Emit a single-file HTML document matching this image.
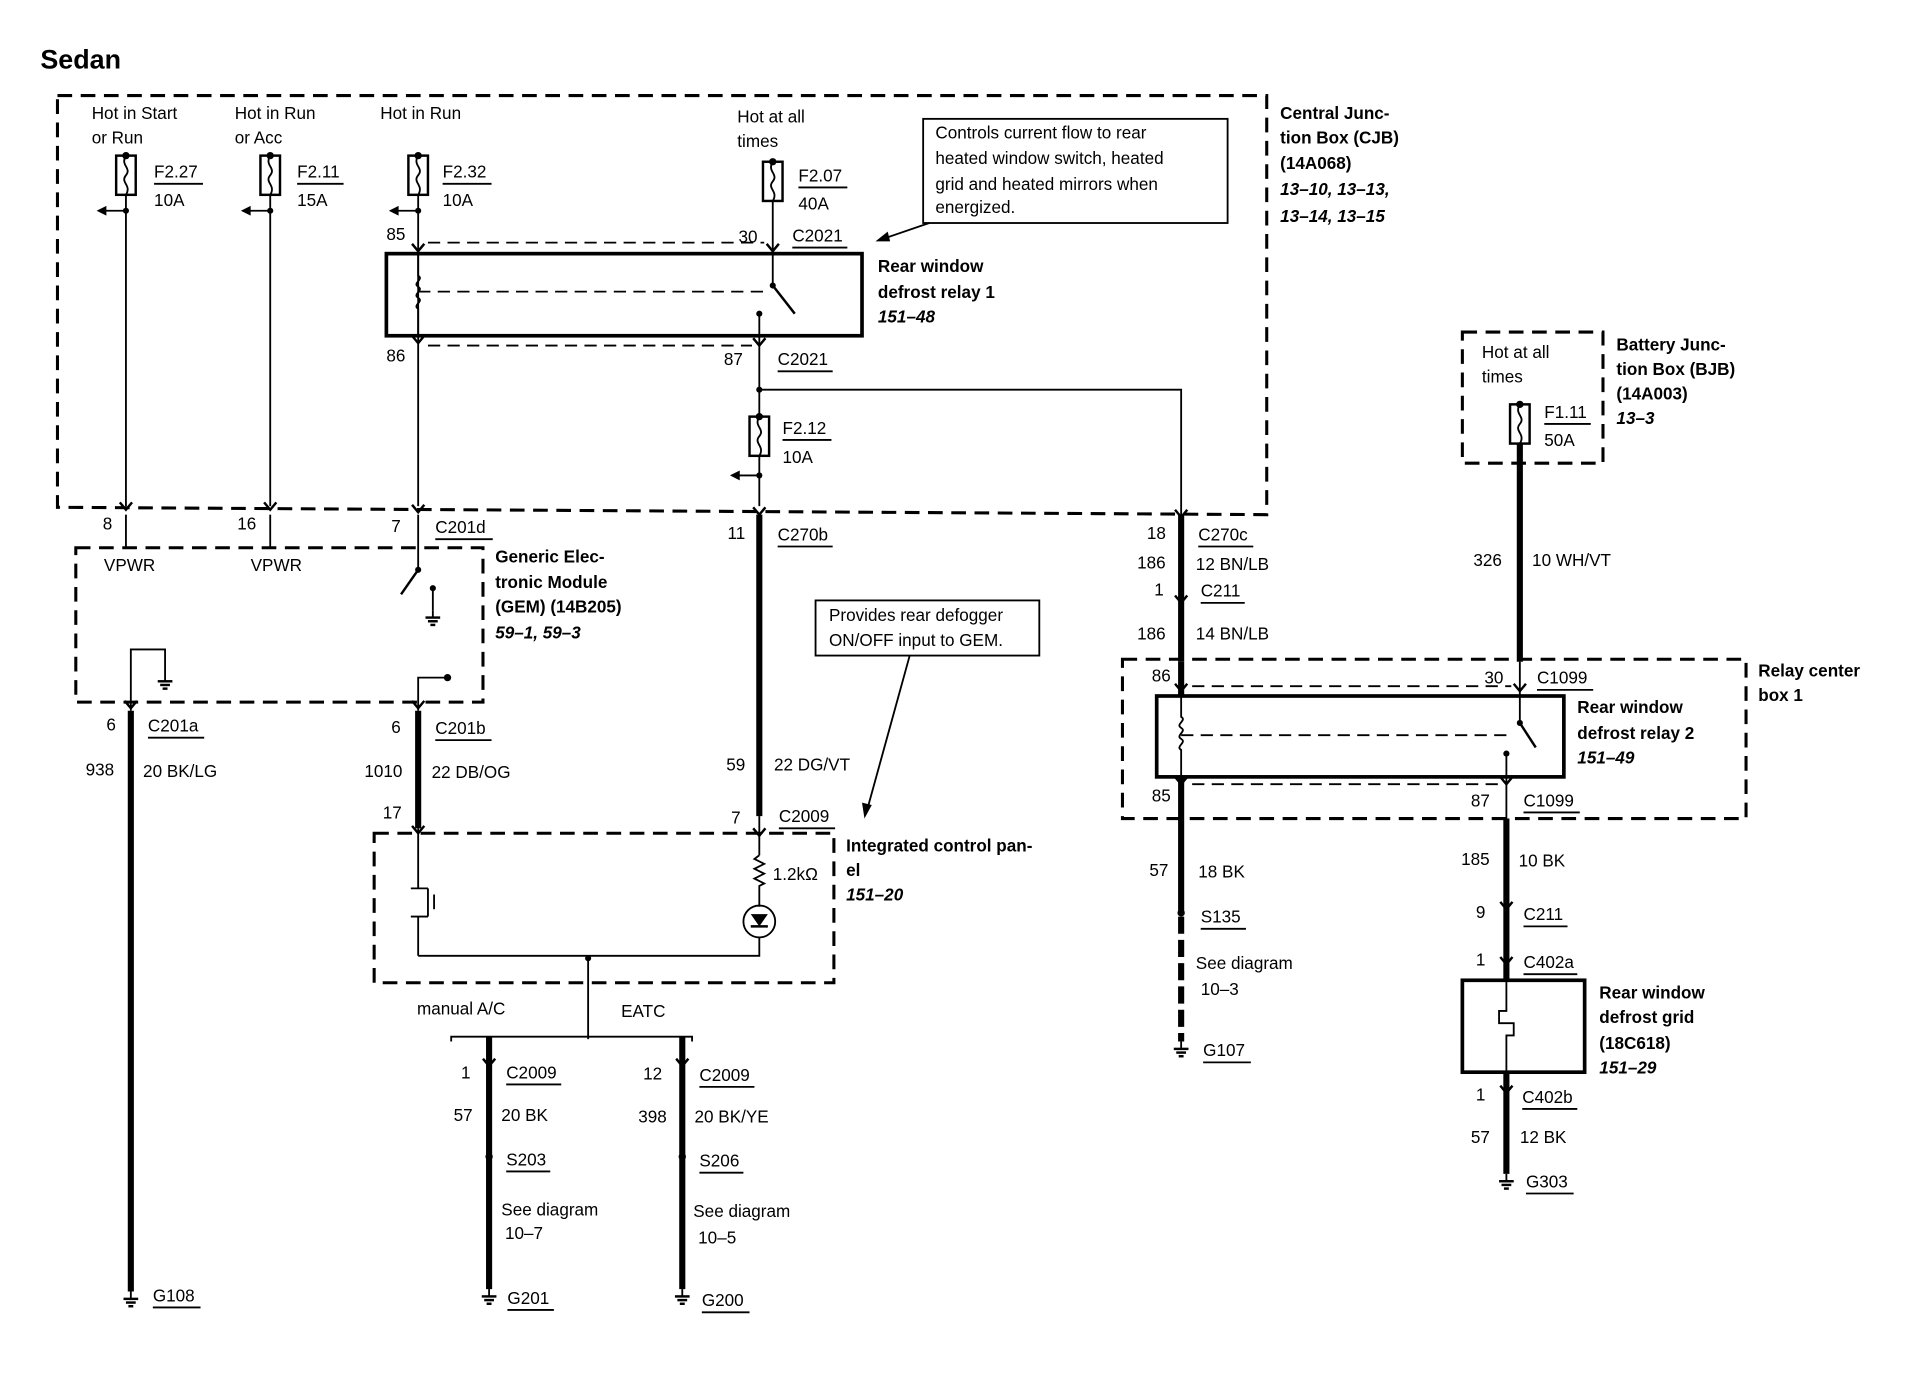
<!DOCTYPE html>
<html><head><meta charset="utf-8">
<style>
html,body{margin:0;padding:0;background:#fff;}
svg{display:block;}
text{font-family:"Liberation Sans",sans-serif;font-size:14px;fill:#000;}
.b{font-weight:bold;}
.i{font-weight:bold;font-style:italic;}
.th{stroke:#000;stroke-width:5;fill:none;}
.tn{stroke:#000;stroke-width:1.5;fill:none;}
.rb{stroke:#000;stroke-width:3;fill:none;}
.ds{stroke:#000;stroke-width:2.5;fill:none;stroke-dasharray:12 7;}
.dt{stroke:#000;stroke-width:1.5;fill:none;stroke-dasharray:10 6;}
</style></head><body>
<svg width="1916" height="1392" viewBox="0 0 1567 1136" preserveAspectRatio="none" xmlns="http://www.w3.org/2000/svg">
<defs>
<g id="fuse"><rect x="-8" y="0" width="16" height="32" fill="#fff" stroke="#000" stroke-width="2"/><path d="M0,0 C-5,8 5,10 0,16 C-5,22 5,24 0,32" stroke="#000" stroke-width="1.5" fill="none"/><circle cx="0" cy="0" r="3"/></g>
<g id="gnd"><line x1="0" y1="0" x2="0" y2="6" stroke="#000" stroke-width="1.5"/><line x1="-6" y1="6" x2="6" y2="6" stroke="#000" stroke-width="2"/><line x1="-4" y1="9" x2="4" y2="9" stroke="#000" stroke-width="2"/><line x1="-2" y1="12" x2="2" y2="12" stroke="#000" stroke-width="2"/></g>
<g id="conn"><path d="M-5,-4 L0,2 L5,-4" stroke="#000" stroke-width="2" fill="none"/></g>
<g id="arrL"><path d="M0,0 L-18,0" stroke="#000" stroke-width="1.5"/><path d="M-24,0 L-16,-4 L-16,4 Z"/><circle cx="0" cy="0" r="2.5"/></g>
</defs>

<text x="33" y="56" class="b" style="font-size:22px">Sedan</text>

<path d="M47,78 L1036,78 L1036,420 L47,414 Z" class="ds"/>
<rect x="755" y="97" width="249" height="85" fill="#fff" stroke="#000" stroke-width="1.5"/>
<text x="765" y="113">Controls current flow to rear</text>
<text x="765" y="134">heated window switch, heated</text>
<text x="765" y="155">grid and heated mirrors when</text>
<text x="765" y="174">energized.</text>
<line x1="760" y1="182" x2="722" y2="195" class="tn"/><path d="M716,197 L726,189 L728,197 Z"/>

<text x="75" y="97">Hot in Start</text><text x="75" y="117">or Run</text>
<text x="192" y="97">Hot in Run</text><text x="192" y="117">or Acc</text>
<text x="311" y="97">Hot in Run</text>
<text x="603" y="100">Hot at all</text><text x="603" y="120">times</text>

<text x="1047" y="97" class="b">Central Junc-</text>
<text x="1047" y="117" class="b">tion Box (CJB)</text>
<text x="1047" y="138" class="b">(14A068)</text>
<text x="1047" y="159" class="i">13–10, 13–13,</text>
<text x="1047" y="181" class="i">13–14, 13–15</text>

<use href="#fuse" x="103" y="127"/><line x1="103" y1="159" x2="103" y2="413" class="tn"/><use href="#arrL" x="103" y="172"/>
<text x="126" y="145">F2.27</text><line x1="126" y1="150" x2="166" y2="150" class="tn"/><text x="126" y="168">10A</text>
<use href="#fuse" x="221" y="127"/><line x1="221" y1="159" x2="221" y2="413" class="tn"/><use href="#arrL" x="221" y="172"/>
<text x="243" y="145">F2.11</text><line x1="243" y1="150" x2="281" y2="150" class="tn"/><text x="243" y="168">15A</text>
<use href="#fuse" x="342" y="127"/><line x1="342" y1="159" x2="342" y2="413" class="tn"/><use href="#arrL" x="342" y="172"/>
<text x="362" y="145">F2.32</text><line x1="362" y1="150" x2="402" y2="150" class="tn"/><text x="362" y="168">10A</text>
<use href="#fuse" x="632" y="132"/><line x1="632" y1="164" x2="632" y2="233" class="tn"/>
<text x="653" y="148">F2.07</text><line x1="653" y1="153" x2="693" y2="153" class="tn"/><text x="653" y="171">40A</text>

<text x="316" y="196">85</text><text x="604" y="198">30</text>
<text x="648" y="197">C2021</text><line x1="648" y1="202" x2="693" y2="202" class="tn"/>
<line x1="350" y1="198" x2="625" y2="198" class="dt"/>
<rect x="316" y="207" width="389" height="67" class="rb"/>
<path d="M342,207 L342,225 C347,228 337,231 342,234 C347,237 337,240 342,243 C347,246 337,249 342,252 L342,274" class="tn"/>
<line x1="342" y1="238" x2="628" y2="238" class="dt"/>
<line x1="632" y1="233" x2="650" y2="256" stroke="#000" stroke-width="2"/><circle cx="632" cy="233" r="2.5"/>
<line x1="621" y1="256" x2="621" y2="413" class="tn"/><circle cx="621" cy="256" r="2.5"/>
<line x1="350" y1="282" x2="615" y2="282" class="dt"/>
<use href="#conn" x="342" y="278"/><use href="#conn" x="621" y="280"/><use href="#conn" x="342" y="203"/><use href="#conn" x="632" y="203"/>
<text x="316" y="295">86</text><text x="592" y="298">87</text>
<text x="636" y="298">C2021</text><line x1="636" y1="303" x2="681" y2="303" class="tn"/>
<text x="718" y="222" class="b">Rear window</text>
<text x="718" y="243" class="b">defrost relay 1</text>
<text x="718" y="263" class="i">151–48</text>

<polyline points="621,318 966,318 966,420" class="tn"/><circle cx="621" cy="318" r="2.5"/>
<use href="#fuse" x="621" y="340"/><use href="#arrL" x="621" y="388"/>
<text x="640" y="354">F2.12</text><line x1="640" y1="359" x2="680" y2="359" class="tn"/><text x="640" y="378">10A</text>

<use href="#conn" x="103" y="414"/><use href="#conn" x="221" y="414"/><use href="#conn" x="342" y="416"/><use href="#conn" x="621" y="418"/><use href="#conn" x="966" y="420"/>
<text x="84" y="432">8</text><text x="194" y="432">16</text><text x="320" y="434">7</text>
<text x="356" y="435">C201d</text><line x1="356" y1="440" x2="403" y2="440" class="tn"/>
<text x="595" y="440">11</text><text x="636" y="441">C270b</text><line x1="636" y1="446" x2="681" y2="446" class="tn"/>
<text x="938" y="440">18</text><text x="980" y="441">C270c</text><line x1="980" y1="446" x2="1025" y2="446" class="tn"/>

<path d="M62,447 L395,447 L395,573 L62,573 Z" class="ds"/>
<line x1="103" y1="420" x2="103" y2="447" class="tn"/><line x1="221" y1="420" x2="221" y2="447" class="tn"/>
<text x="85" y="466">VPWR</text><text x="205" y="466">VPWR</text>
<line x1="342" y1="420" x2="342" y2="465" class="tn"/><circle cx="342" cy="465" r="2.5"/>
<line x1="342" y1="465" x2="328" y2="485" stroke="#000" stroke-width="2"/>
<line x1="354" y1="480" x2="354" y2="498" class="tn"/><circle cx="354" cy="480" r="2.5"/><use href="#gnd" x="354" y="498"/>
<text x="405" y="459" class="b">Generic Elec-</text>
<text x="405" y="480" class="b">tronic Module</text>
<text x="405" y="500" class="b">(GEM) (14B205)</text>
<text x="405" y="521" class="i">59–1, 59–3</text>
<polyline points="107,580 107,530 135,530 135,550" class="tn"/><use href="#gnd" x="135" y="550"/>
<polyline points="342,580 342,553 366,553" class="tn"/><circle cx="366" cy="553" r="3"/>
<use href="#conn" x="107" y="576"/><use href="#conn" x="342" y="576"/>
<text x="87" y="596">6</text><text x="121" y="597">C201a</text><line x1="121" y1="602" x2="167" y2="602" class="tn"/>
<text x="320" y="598">6</text><text x="356" y="599">C201b</text><line x1="356" y1="604" x2="402" y2="604" class="tn"/>
<text x="70" y="633">938</text><text x="117" y="634">20 BK/LG</text>
<text x="298" y="634">1010</text><text x="353" y="635">22 DB/OG</text>
<line x1="107" y1="580" x2="107" y2="1054" class="th"/><use href="#gnd" x="107" y="1054"/>
<text x="125" y="1062">G108</text><line x1="125" y1="1067" x2="164" y2="1067" class="tn"/>
<line x1="342" y1="580" x2="342" y2="676" class="th"/>
<line x1="621" y1="420" x2="621" y2="666" class="th"/>

<text x="594" y="629">59</text><text x="633" y="629">22 DG/VT</text>
<text x="313" y="668">17</text><text x="598" y="672">7</text>
<text x="637" y="671">C2009</text><line x1="637" y1="676" x2="683" y2="676" class="tn"/>

<rect x="667" y="490" width="183" height="45" fill="#fff" stroke="#000" stroke-width="1.5"/>
<text x="678" y="507">Provides rear defogger</text>
<text x="678" y="527">ON/OFF input to GEM.</text>
<line x1="744" y1="535" x2="710" y2="658" class="tn"/><path d="M707,668 L705,655 L713,657 Z"/>

<path d="M306,680 L682,680 L682,802 L306,802 Z" class="ds"/>
<line x1="342" y1="676" x2="342" y2="725" class="tn"/><use href="#conn" x="342" y="678"/>
<line x1="336" y1="725" x2="350" y2="725" class="tn"/>
<line x1="350" y1="725" x2="350" y2="748" class="tn"/>
<line x1="342" y1="748" x2="342" y2="780" class="tn"/><line x1="336" y1="748" x2="350" y2="748" class="tn"/>
<line x1="355" y1="730" x2="355" y2="742" class="tn"/>
<line x1="621" y1="666" x2="621" y2="698" class="tn"/><use href="#conn" x="621" y="680"/>
<path d="M621,698 l-4,3 l8,4 l-8,4 l8,4 l-8,4 l8,4 l-4,2 L621,740" class="tn"/>
<circle cx="621" cy="752" r="13" class="tn"/><path d="M614,746 L628,746 L621,756 Z"/><line x1="614" y1="756" x2="628" y2="756" stroke="#000" stroke-width="2"/>
<text x="632" y="718">1.2kΩ</text>
<polyline points="342,780 621,780 621,765" class="tn"/>
<line x1="481" y1="780" x2="481" y2="848" class="tn"/><circle cx="481" cy="782" r="2.5"/>
<text x="692" y="695" class="b">Integrated control pan-</text>
<text x="692" y="715" class="b">el</text>
<text x="692" y="735" class="i">151–20</text>
<text x="341" y="828">manual A/C</text><text x="508" y="830">EATC</text>
<path d="M369,850 L369,846 L566,846 L566,850" class="tn"/>
<line x1="400" y1="846" x2="400" y2="1052" class="th"/><line x1="558" y1="846" x2="558" y2="1052" class="th"/>
<use href="#conn" x="400" y="868"/><use href="#conn" x="558" y="868"/>
<use href="#gnd" x="400" y="1052"/><use href="#gnd" x="558" y="1052"/>
<text x="377" y="880">1</text><text x="414" y="880">C2009</text><line x1="414" y1="885" x2="459" y2="885" class="tn"/>
<text x="526" y="881">12</text><text x="572" y="882">C2009</text><line x1="572" y1="887" x2="617" y2="887" class="tn"/>
<text x="371" y="915">57</text><text x="410" y="915">20 BK</text>
<text x="522" y="916">398</text><text x="568" y="916">20 BK/YE</text>
<circle cx="400" cy="944" r="3"/><circle cx="558" cy="944" r="3"/>
<text x="414" y="951">S203</text><line x1="414" y1="956" x2="450" y2="956" class="tn"/>
<text x="572" y="952">S206</text><line x1="572" y1="957" x2="608" y2="957" class="tn"/>
<text x="410" y="992">See diagram</text><text x="413" y="1011">10–7</text>
<text x="567" y="993">See diagram</text><text x="571" y="1015">10–5</text>
<text x="415" y="1064">G201</text><line x1="415" y1="1069" x2="453" y2="1069" class="tn"/>
<text x="574" y="1066">G200</text><line x1="574" y1="1071" x2="613" y2="1071" class="tn"/>

<line x1="966" y1="420" x2="966" y2="540" class="th"/>
<use href="#conn" x="966" y="490"/>
<text x="930" y="464">186</text><text x="978" y="465">12 BN/LB</text>
<text x="944" y="486">1</text><text x="982" y="487">C211</text><line x1="982" y1="492" x2="1018" y2="492" class="tn"/>
<text x="930" y="522">186</text><text x="978" y="522">14 BN/LB</text>

<path d="M1196,271 L1311,271 L1311,378 L1196,378 Z" class="ds"/>
<text x="1212" y="292">Hot at all</text><text x="1212" y="312">times</text>
<use href="#fuse" x="1243" y="330"/>
<text x="1263" y="341">F1.11</text><line x1="1263" y1="346" x2="1301" y2="346" class="tn"/><text x="1263" y="364">50A</text>
<text x="1322" y="286" class="b">Battery Junc-</text>
<text x="1322" y="306" class="b">tion Box (BJB)</text>
<text x="1322" y="326" class="b">(14A003)</text>
<text x="1322" y="346" class="i">13–3</text>
<line x1="1243" y1="362" x2="1243" y2="540" class="th"/>
<text x="1205" y="462">326</text><text x="1253" y="462">10 WH/VT</text>

<path d="M918,538 L1428,538 L1428,668 L918,668 Z" class="ds"/>
<text x="1438" y="552" class="b">Relay center</text><text x="1438" y="572" class="b">box 1</text>
<text x="942" y="556">86</text><text x="1214" y="558">30</text>
<text x="1257" y="558">C1099</text><line x1="1257" y1="563" x2="1303" y2="563" class="tn"/>
<line x1="975" y1="560" x2="1236" y2="560" class="dt"/>
<rect x="946" y="568" width="333" height="66" class="rb"/>
<line x1="966" y1="540" x2="966" y2="568" class="th"/>
<path d="M966,568 L966,585 C971,588 961,591 966,594 C971,597 961,600 966,603 C971,606 961,609 966,612 L966,634" class="tn"/>
<line x1="966" y1="600" x2="1236" y2="600" class="dt"/>
<line x1="1243" y1="540" x2="1243" y2="590" class="tn"/><circle cx="1243" cy="590" r="2.5"/>
<line x1="1243" y1="590" x2="1256" y2="610" stroke="#000" stroke-width="2"/>
<line x1="1232" y1="615" x2="1232" y2="668" class="tn"/><circle cx="1232" cy="615" r="2.5"/>
<line x1="975" y1="640" x2="1226" y2="640" class="dt"/>
<use href="#conn" x="966" y="562"/><use href="#conn" x="1243" y="562"/><use href="#conn" x="966" y="638"/><use href="#conn" x="1232" y="638"/>
<text x="1290" y="582" class="b">Rear window</text>
<text x="1290" y="603" class="b">defrost relay 2</text>
<text x="1290" y="623" class="i">151–49</text>
<text x="942" y="654">85</text><text x="1203" y="658">87</text>
<text x="1246" y="658">C1099</text><line x1="1246" y1="663" x2="1292" y2="663" class="tn"/>

<line x1="966" y1="634" x2="966" y2="745" class="th"/><circle cx="966" cy="745" r="3"/>
<line x1="966" y1="748" x2="966" y2="850" class="th" style="stroke-dasharray:14 5"/>
<use href="#gnd" x="966" y="850"/>
<text x="940" y="715">57</text><text x="980" y="716">18 BK</text>
<text x="982" y="753">S135</text><line x1="982" y1="758" x2="1019" y2="758" class="tn"/>
<text x="978" y="791">See diagram</text><text x="982" y="812">10–3</text>
<text x="984" y="862">G107</text><line x1="984" y1="867" x2="1023" y2="867" class="tn"/>

<line x1="1232" y1="668" x2="1232" y2="800" class="th"/>
<use href="#conn" x="1232" y="740"/><use href="#conn" x="1232" y="785"/>
<text x="1195" y="706">185</text><text x="1242" y="707">10 BK</text>
<text x="1207" y="749">9</text><text x="1246" y="751">C211</text><line x1="1246" y1="756" x2="1282" y2="756" class="tn"/>
<text x="1207" y="788">1</text><text x="1246" y="790">C402a</text><line x1="1246" y1="795" x2="1290" y2="795" class="tn"/>
<rect x="1196" y="800" width="100" height="75" class="rb"/>
<path d="M1232,800 L1232,825 L1226,825 L1226,835 L1238,835 L1238,845 L1232,845 L1232,875" class="tn"/>
<text x="1308" y="815" class="b">Rear window</text>
<text x="1308" y="835" class="b">defrost grid</text>
<text x="1308" y="856" class="b">(18C618)</text>
<text x="1308" y="876" class="i">151–29</text>
<line x1="1232" y1="875" x2="1232" y2="958" class="th"/>
<use href="#conn" x="1232" y="890"/><use href="#gnd" x="1232" y="958"/>
<text x="1207" y="898">1</text><text x="1245" y="900">C402b</text><line x1="1245" y1="905" x2="1290" y2="905" class="tn"/>
<text x="1203" y="933">57</text><text x="1243" y="933">12 BK</text>
<text x="1248" y="969">G303</text><line x1="1248" y1="974" x2="1287" y2="974" class="tn"/>
</svg>
</body></html>
